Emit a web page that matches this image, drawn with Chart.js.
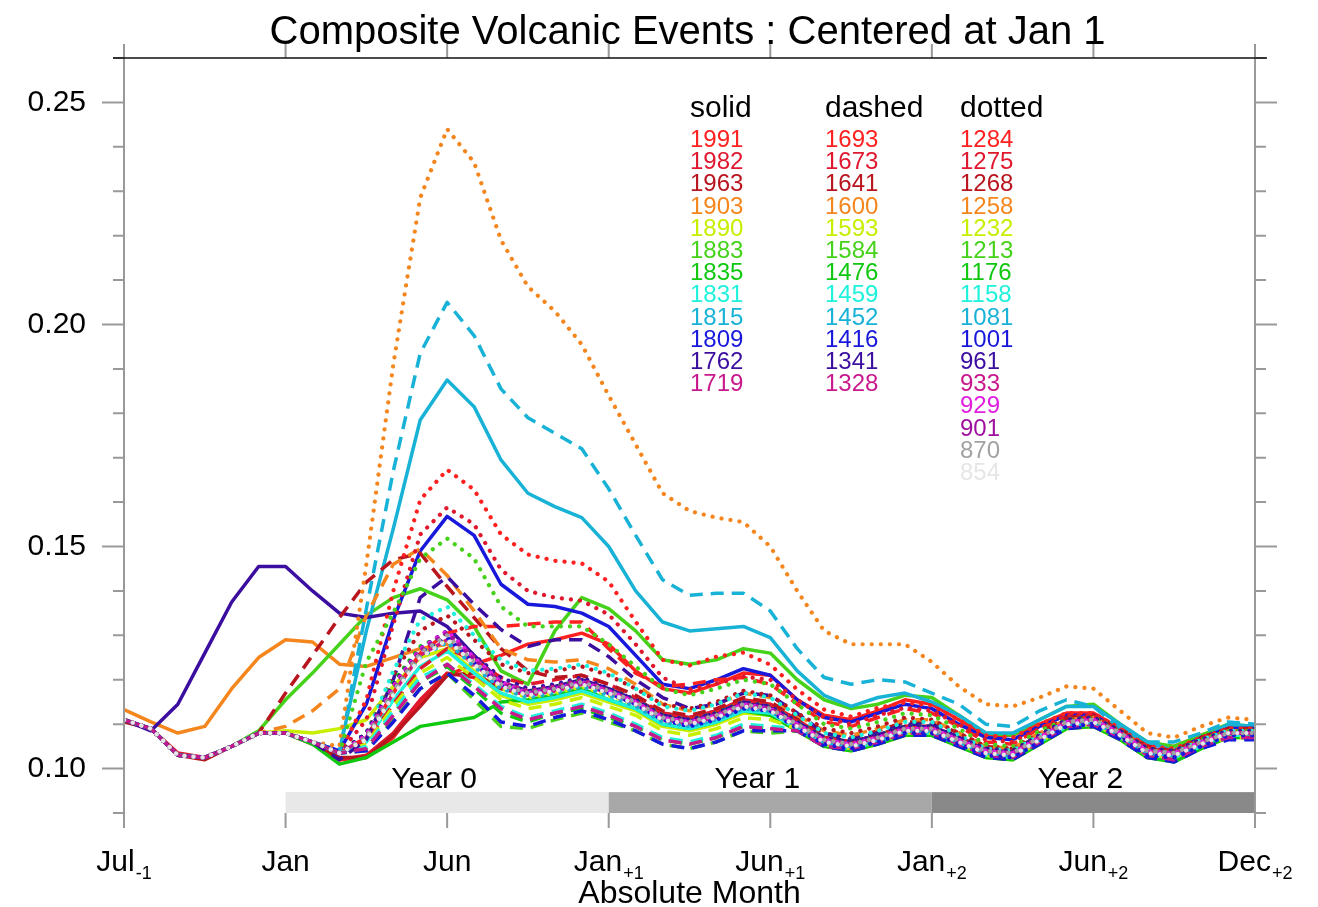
<!DOCTYPE html>
<html>
<head>
<meta charset="utf-8">
<title>Composite Volcanic Events</title>
<script src="https://cdn.jsdelivr.net/npm/chart.js@4.4.1/dist/chart.umd.min.js"></script>
<style>
  html, body { margin: 0; padding: 0; background: #fff; }
</style>
</head>
<body>
<canvas id="chart" width="1318" height="907"></canvas>
<script>
// monthly composites, Jul(-1) .. Dec(+2)
const y1991 = [0.111, 0.109, 0.103, 0.1025, 0.105, 0.108, 0.108, 0.106, 0.102, 0.1025, 0.107, 0.115, 0.121, 0.1235, 0.1255, 0.128, 0.129, 0.1305, 0.128, 0.122, 0.118, 0.117, 0.119, 0.1215, 0.121, 0.1155, 0.112, 0.111, 0.113, 0.1155, 0.1145, 0.111, 0.1075, 0.1075, 0.110, 0.1125, 0.1125, 0.109, 0.1055, 0.105, 0.1075, 0.1095, 0.109];
const y1982 = [0.111, 0.109, 0.1035, 0.1025, 0.105, 0.108, 0.108, 0.106, 0.102, 0.103, 0.108, 0.1155, 0.1215, 0.1205, 0.118, 0.1165, 0.1175, 0.119, 0.117, 0.1155, 0.1125, 0.1115, 0.113, 0.1155, 0.1145, 0.111, 0.107, 0.106, 0.1075, 0.1095, 0.1095, 0.107, 0.1045, 0.104, 0.1075, 0.1105, 0.111, 0.108, 0.104, 0.1035, 0.106, 0.1085, 0.1085];
const y1963 = [0.1105, 0.109, 0.103, 0.102, 0.105, 0.108, 0.108, 0.1055, 0.1025, 0.1025, 0.1075, 0.114, 0.121, 0.1215, 0.118, 0.117, 0.118, 0.1195, 0.1175, 0.115, 0.112, 0.1105, 0.112, 0.1145, 0.1135, 0.110, 0.1065, 0.1055, 0.107, 0.109, 0.109, 0.1065, 0.104, 0.1035, 0.107, 0.110, 0.1105, 0.1075, 0.104, 0.1035, 0.106, 0.108, 0.108];
const y1903 = [0.1133, 0.1105, 0.108, 0.1095, 0.118, 0.125, 0.129, 0.1285, 0.1235, 0.123, 0.125, 0.127, 0.128, 0.1235, 0.119, 0.117, 0.118, 0.1195, 0.1175, 0.1155, 0.112, 0.111, 0.1125, 0.115, 0.114, 0.1105, 0.107, 0.106, 0.1075, 0.1095, 0.1095, 0.107, 0.1045, 0.104, 0.1075, 0.111, 0.1115, 0.1085, 0.1045, 0.1035, 0.1065, 0.1085, 0.1085];
const y1890 = [0.111, 0.109, 0.103, 0.1025, 0.105, 0.108, 0.1085, 0.108, 0.109, 0.111, 0.1185, 0.125, 0.127, 0.122, 0.1165, 0.1145, 0.1155, 0.117, 0.115, 0.113, 0.1095, 0.1085, 0.110, 0.1125, 0.112, 0.1085, 0.105, 0.104, 0.1055, 0.1075, 0.1075, 0.105, 0.1025, 0.102, 0.1055, 0.109, 0.1095, 0.1065, 0.1025, 0.102, 0.1045, 0.107, 0.107];
const y1883 = [0.111, 0.109, 0.103, 0.1025, 0.105, 0.1085, 0.1155, 0.1215, 0.128, 0.1345, 0.1385, 0.1405, 0.138, 0.132, 0.122, 0.119, 0.131, 0.1385, 0.136, 0.131, 0.1245, 0.1235, 0.1245, 0.127, 0.126, 0.120, 0.1155, 0.1135, 0.1145, 0.1165, 0.116, 0.112, 0.108, 0.1075, 0.111, 0.114, 0.1145, 0.110, 0.106, 0.105, 0.1075, 0.110, 0.1095];
const y1835 = [0.111, 0.109, 0.103, 0.1025, 0.105, 0.108, 0.108, 0.1055, 0.101, 0.1025, 0.106, 0.1095, 0.1105, 0.1115, 0.115, 0.1155, 0.1165, 0.118, 0.1155, 0.1135, 0.110, 0.109, 0.1105, 0.113, 0.112, 0.1085, 0.105, 0.104, 0.1055, 0.1075, 0.1075, 0.105, 0.1025, 0.102, 0.1055, 0.109, 0.1095, 0.1065, 0.1025, 0.1015, 0.1045, 0.107, 0.107];
const y1831 = [0.111, 0.109, 0.103, 0.1025, 0.105, 0.108, 0.108, 0.106, 0.1035, 0.106, 0.1155, 0.123, 0.1265, 0.1215, 0.117, 0.115, 0.116, 0.1175, 0.1155, 0.1135, 0.110, 0.109, 0.1105, 0.113, 0.1125, 0.109, 0.1055, 0.1045, 0.106, 0.108, 0.108, 0.1055, 0.103, 0.1025, 0.106, 0.1095, 0.110, 0.107, 0.103, 0.1025, 0.105, 0.1075, 0.1075];
const y1815 = [0.111, 0.109, 0.103, 0.1025, 0.105, 0.108, 0.108, 0.106, 0.104, 0.131, 0.154, 0.1785, 0.1875, 0.1815, 0.1695, 0.162, 0.159, 0.1565, 0.150, 0.140, 0.133, 0.131, 0.1315, 0.132, 0.1295, 0.122, 0.1165, 0.114, 0.116, 0.117, 0.115, 0.112, 0.108, 0.108, 0.111, 0.114, 0.114, 0.110, 0.106, 0.104, 0.1065, 0.110, 0.1095];
const y1809 = [0.111, 0.109, 0.103, 0.1025, 0.105, 0.108, 0.108, 0.106, 0.104, 0.1145, 0.1335, 0.149, 0.1568, 0.1525, 0.1415, 0.137, 0.1365, 0.135, 0.132, 0.1255, 0.119, 0.118, 0.120, 0.1225, 0.121, 0.1155, 0.1115, 0.1105, 0.1125, 0.1145, 0.1135, 0.110, 0.107, 0.1065, 0.1095, 0.112, 0.112, 0.1085, 0.1045, 0.104, 0.107, 0.109, 0.109];
const y1762 = [0.111, 0.1085, 0.1145, 0.126, 0.1375, 0.1455, 0.1455, 0.140, 0.135, 0.134, 0.135, 0.1355, 0.132, 0.1255, 0.1195, 0.1175, 0.1185, 0.120, 0.118, 0.1155, 0.112, 0.111, 0.1125, 0.115, 0.114, 0.1105, 0.107, 0.106, 0.1075, 0.1095, 0.1095, 0.107, 0.1045, 0.104, 0.1075, 0.111, 0.1115, 0.1085, 0.1045, 0.1035, 0.1065, 0.1085, 0.1085];
const y1719 = [0.111, 0.109, 0.103, 0.1025, 0.105, 0.108, 0.108, 0.106, 0.1035, 0.107, 0.117, 0.1255, 0.129, 0.1235, 0.1185, 0.1165, 0.1175, 0.119, 0.117, 0.1145, 0.111, 0.110, 0.1115, 0.114, 0.113, 0.1095, 0.106, 0.105, 0.1065, 0.1085, 0.1085, 0.106, 0.1035, 0.103, 0.1065, 0.110, 0.1105, 0.1075, 0.1035, 0.103, 0.1055, 0.108, 0.108];

const y1693 = [0.111, 0.109, 0.103, 0.1025, 0.105, 0.108, 0.108, 0.106, 0.1035, 0.107, 0.117, 0.126, 0.1305, 0.132, 0.132, 0.1325, 0.133, 0.133, 0.127, 0.1215, 0.1185, 0.119, 0.120, 0.1205, 0.119, 0.1145, 0.1105, 0.1095, 0.1115, 0.1135, 0.1125, 0.1095, 0.106, 0.1055, 0.109, 0.1115, 0.1115, 0.108, 0.104, 0.1035, 0.1065, 0.1085, 0.1085];
const y1673 = [0.111, 0.109, 0.103, 0.1025, 0.105, 0.108, 0.108, 0.106, 0.1035, 0.106, 0.1145, 0.1225, 0.127, 0.1245, 0.1205, 0.119, 0.120, 0.121, 0.119, 0.116, 0.1125, 0.1115, 0.113, 0.1155, 0.1145, 0.111, 0.107, 0.106, 0.1075, 0.1095, 0.1095, 0.107, 0.104, 0.1035, 0.107, 0.1105, 0.111, 0.108, 0.104, 0.1035, 0.106, 0.1085, 0.1085];
const y1641 = [0.111, 0.109, 0.103, 0.1025, 0.105, 0.108, 0.117, 0.1255, 0.134, 0.142, 0.147, 0.1485, 0.141, 0.134, 0.127, 0.122, 0.1205, 0.121, 0.119, 0.1165, 0.113, 0.112, 0.1135, 0.116, 0.115, 0.1115, 0.108, 0.107, 0.1085, 0.1105, 0.1105, 0.108, 0.105, 0.1045, 0.108, 0.1115, 0.112, 0.109, 0.105, 0.104, 0.107, 0.109, 0.109];
const y1600 = [0.111, 0.109, 0.103, 0.1025, 0.105, 0.108, 0.1095, 0.113, 0.118, 0.1345, 0.146, 0.1495, 0.1435, 0.1355, 0.127, 0.1245, 0.124, 0.1245, 0.1225, 0.119, 0.1145, 0.113, 0.1145, 0.117, 0.116, 0.112, 0.1085, 0.1075, 0.109, 0.111, 0.111, 0.108, 0.105, 0.1045, 0.108, 0.111, 0.1115, 0.1085, 0.1045, 0.1035, 0.1065, 0.1085, 0.1085];
const y1593 = [0.111, 0.109, 0.103, 0.1025, 0.105, 0.108, 0.108, 0.106, 0.1035, 0.1055, 0.114, 0.1215, 0.125, 0.1205, 0.1155, 0.1135, 0.1145, 0.116, 0.114, 0.112, 0.1085, 0.1075, 0.109, 0.1115, 0.111, 0.109, 0.1055, 0.1045, 0.106, 0.108, 0.108, 0.1055, 0.103, 0.1025, 0.106, 0.1095, 0.110, 0.107, 0.103, 0.1025, 0.105, 0.107, 0.107];
const y1584 = [0.111, 0.109, 0.103, 0.1025, 0.105, 0.108, 0.108, 0.106, 0.1035, 0.104, 0.111, 0.118, 0.1215, 0.1155, 0.1095, 0.109, 0.111, 0.1125, 0.1105, 0.1085, 0.1055, 0.1045, 0.106, 0.1085, 0.108, 0.1085, 0.105, 0.1045, 0.106, 0.108, 0.108, 0.1055, 0.103, 0.1025, 0.106, 0.1095, 0.1095, 0.1065, 0.1025, 0.102, 0.105, 0.107, 0.107];
const y1476 = [0.111, 0.109, 0.103, 0.1025, 0.105, 0.108, 0.108, 0.106, 0.1035, 0.1045, 0.1125, 0.1195, 0.123, 0.118, 0.1125, 0.1105, 0.1125, 0.1135, 0.1115, 0.1095, 0.1065, 0.1055, 0.107, 0.1095, 0.109, 0.1085, 0.1055, 0.1045, 0.106, 0.108, 0.108, 0.1055, 0.103, 0.1025, 0.106, 0.1095, 0.110, 0.107, 0.103, 0.102, 0.105, 0.107, 0.107];
const y1459 = [0.111, 0.109, 0.103, 0.1025, 0.105, 0.108, 0.108, 0.106, 0.1035, 0.105, 0.113, 0.1205, 0.1235, 0.119, 0.114, 0.1115, 0.113, 0.1145, 0.1125, 0.110, 0.107, 0.106, 0.1075, 0.110, 0.1095, 0.109, 0.1055, 0.1045, 0.106, 0.108, 0.108, 0.1055, 0.103, 0.1025, 0.106, 0.1095, 0.110, 0.107, 0.103, 0.102, 0.105, 0.107, 0.107];
const y1452 = [0.111, 0.109, 0.103, 0.1025, 0.105, 0.108, 0.108, 0.106, 0.1035, 0.136, 0.167, 0.1935, 0.205, 0.1975, 0.1855, 0.179, 0.1755, 0.172, 0.163, 0.1525, 0.1425, 0.139, 0.1395, 0.1395, 0.1355, 0.127, 0.1205, 0.119, 0.120, 0.1195, 0.117, 0.1145, 0.110, 0.1095, 0.113, 0.1155, 0.114, 0.109, 0.106, 0.106, 0.108, 0.1105, 0.110];
const y1416 = [0.111, 0.109, 0.103, 0.1025, 0.105, 0.108, 0.108, 0.106, 0.1035, 0.104, 0.1105, 0.118, 0.1215, 0.1165, 0.1105, 0.1095, 0.1115, 0.113, 0.111, 0.1085, 0.1055, 0.1045, 0.106, 0.1085, 0.1085, 0.1085, 0.105, 0.104, 0.1055, 0.1075, 0.1075, 0.105, 0.1025, 0.102, 0.1055, 0.109, 0.1095, 0.1065, 0.1025, 0.1015, 0.1045, 0.1065, 0.1065];
const y1341 = [0.111, 0.109, 0.103, 0.1025, 0.105, 0.108, 0.108, 0.106, 0.102, 0.1065, 0.120, 0.1385, 0.1432, 0.137, 0.1313, 0.1275, 0.129, 0.129, 0.1252, 0.120, 0.116, 0.1135, 0.1145, 0.117, 0.1165, 0.1125, 0.108, 0.1065, 0.108, 0.110, 0.110, 0.107, 0.104, 0.1035, 0.107, 0.110, 0.1105, 0.1075, 0.1035, 0.103, 0.106, 0.108, 0.108];
const y1328 = [0.111, 0.109, 0.103, 0.1025, 0.105, 0.108, 0.108, 0.106, 0.1035, 0.1045, 0.112, 0.1195, 0.1235, 0.1185, 0.1135, 0.111, 0.1125, 0.114, 0.112, 0.1095, 0.1065, 0.1055, 0.107, 0.1095, 0.109, 0.1085, 0.105, 0.1045, 0.106, 0.108, 0.108, 0.1055, 0.103, 0.1025, 0.106, 0.1095, 0.110, 0.107, 0.103, 0.102, 0.105, 0.107, 0.107];

const y1284 = [0.111, 0.109, 0.103, 0.1025, 0.105, 0.108, 0.108, 0.106, 0.1035, 0.1155, 0.140, 0.1605, 0.1673, 0.1628, 0.1527, 0.1482, 0.1468, 0.1462, 0.1421, 0.1331, 0.1245, 0.1232, 0.1252, 0.1261, 0.1234, 0.1178, 0.1133, 0.1117, 0.1137, 0.1149, 0.1142, 0.111, 0.1075, 0.107, 0.110, 0.1125, 0.1125, 0.109, 0.105, 0.1045, 0.107, 0.109, 0.109];
const y1275 = [0.111, 0.109, 0.103, 0.1025, 0.105, 0.108, 0.108, 0.106, 0.1035, 0.111, 0.1325, 0.1527, 0.1588, 0.155, 0.1448, 0.140, 0.1385, 0.1378, 0.1347, 0.128, 0.1205, 0.1178, 0.1191, 0.1207, 0.120, 0.1155, 0.1115, 0.110, 0.112, 0.1137, 0.113, 0.110, 0.1065, 0.106, 0.109, 0.112, 0.112, 0.1085, 0.1045, 0.104, 0.1065, 0.1085, 0.1085];
const y1268 = [0.111, 0.109, 0.103, 0.1025, 0.105, 0.108, 0.108, 0.106, 0.1035, 0.108, 0.121, 0.131, 0.1345, 0.129, 0.1235, 0.1215, 0.122, 0.123, 0.121, 0.118, 0.1145, 0.1135, 0.115, 0.1175, 0.1165, 0.1125, 0.109, 0.108, 0.1095, 0.1115, 0.111, 0.108, 0.105, 0.1045, 0.108, 0.111, 0.1115, 0.1085, 0.1045, 0.104, 0.1065, 0.1085, 0.1085];
const y1258 = [0.111, 0.109, 0.103, 0.1025, 0.105, 0.108, 0.108, 0.106, 0.105, 0.146, 0.191, 0.2285, 0.244, 0.2365, 0.219, 0.2085, 0.203, 0.1955, 0.184, 0.173, 0.162, 0.158, 0.1565, 0.1555, 0.150, 0.140, 0.131, 0.128, 0.128, 0.128, 0.124, 0.1185, 0.1145, 0.114, 0.116, 0.1185, 0.118, 0.113, 0.108, 0.107, 0.1095, 0.1115, 0.111];
const y1232 = [0.111, 0.109, 0.103, 0.1025, 0.105, 0.108, 0.108, 0.106, 0.1035, 0.1075, 0.1175, 0.1255, 0.129, 0.1235, 0.118, 0.116, 0.117, 0.1185, 0.1165, 0.1145, 0.111, 0.110, 0.1115, 0.114, 0.113, 0.1095, 0.106, 0.105, 0.1065, 0.1085, 0.1085, 0.106, 0.1035, 0.103, 0.1065, 0.110, 0.1105, 0.1075, 0.1035, 0.103, 0.1055, 0.108, 0.108];
const y1213 = [0.111, 0.109, 0.103, 0.1025, 0.105, 0.108, 0.108, 0.106, 0.1035, 0.124, 0.1351, 0.1473, 0.1518, 0.1473, 0.1365, 0.132, 0.132, 0.132, 0.128, 0.123, 0.118, 0.1165, 0.118, 0.120, 0.119, 0.1145, 0.110, 0.109, 0.1105, 0.1125, 0.112, 0.109, 0.1055, 0.105, 0.1085, 0.111, 0.1115, 0.108, 0.104, 0.1035, 0.1065, 0.1085, 0.1085];
const y1176 = [0.111, 0.109, 0.103, 0.1025, 0.105, 0.108, 0.108, 0.106, 0.1035, 0.108, 0.1195, 0.1275, 0.1305, 0.125, 0.1195, 0.1175, 0.1185, 0.120, 0.118, 0.1155, 0.112, 0.111, 0.1125, 0.115, 0.114, 0.1105, 0.107, 0.106, 0.1075, 0.1095, 0.1095, 0.107, 0.1045, 0.104, 0.1075, 0.111, 0.1115, 0.1085, 0.1045, 0.104, 0.1065, 0.1085, 0.1085];
const y1158 = [0.111, 0.109, 0.103, 0.1025, 0.105, 0.108, 0.108, 0.106, 0.1035, 0.1075, 0.122, 0.1335, 0.1365, 0.130, 0.1245, 0.122, 0.1225, 0.1235, 0.1215, 0.118, 0.114, 0.113, 0.1145, 0.117, 0.116, 0.112, 0.108, 0.107, 0.1085, 0.1105, 0.1105, 0.1075, 0.1045, 0.104, 0.1075, 0.1105, 0.111, 0.108, 0.104, 0.1035, 0.1065, 0.1085, 0.1085];
const y1081 = [0.111, 0.109, 0.103, 0.1025, 0.105, 0.108, 0.108, 0.106, 0.1035, 0.107, 0.117, 0.125, 0.1285, 0.123, 0.118, 0.116, 0.117, 0.1185, 0.1165, 0.114, 0.1105, 0.1095, 0.111, 0.1135, 0.113, 0.1095, 0.106, 0.105, 0.1065, 0.1085, 0.1085, 0.106, 0.1035, 0.103, 0.1065, 0.110, 0.1105, 0.1075, 0.1035, 0.103, 0.1055, 0.108, 0.108];
const y1001 = [0.111, 0.109, 0.103, 0.1025, 0.105, 0.108, 0.108, 0.106, 0.1035, 0.1075, 0.118, 0.126, 0.1295, 0.124, 0.119, 0.117, 0.118, 0.1195, 0.117, 0.1145, 0.111, 0.1095, 0.111, 0.1135, 0.113, 0.109, 0.1055, 0.1045, 0.106, 0.108, 0.108, 0.1055, 0.103, 0.1025, 0.106, 0.1095, 0.110, 0.107, 0.103, 0.1025, 0.105, 0.1075, 0.1075];
const y961 = [0.111, 0.109, 0.103, 0.1025, 0.105, 0.108, 0.108, 0.106, 0.1035, 0.108, 0.119, 0.127, 0.131, 0.1255, 0.1205, 0.118, 0.119, 0.1205, 0.118, 0.1155, 0.112, 0.111, 0.1125, 0.115, 0.114, 0.1105, 0.107, 0.106, 0.1075, 0.1095, 0.1095, 0.107, 0.1045, 0.104, 0.1075, 0.111, 0.1115, 0.1085, 0.1045, 0.104, 0.1065, 0.1085, 0.1085];
const y933 = [0.111, 0.109, 0.103, 0.1025, 0.105, 0.108, 0.108, 0.106, 0.1035, 0.1075, 0.1185, 0.1265, 0.1305, 0.125, 0.1195, 0.1175, 0.1185, 0.120, 0.1175, 0.115, 0.1115, 0.1105, 0.112, 0.1145, 0.1135, 0.110, 0.1065, 0.1055, 0.107, 0.109, 0.109, 0.1065, 0.104, 0.1035, 0.107, 0.1105, 0.111, 0.108, 0.104, 0.1035, 0.106, 0.108, 0.108];
const y929 = [0.111, 0.109, 0.103, 0.1025, 0.105, 0.108, 0.108, 0.106, 0.1035, 0.1075, 0.1185, 0.127, 0.131, 0.125, 0.1195, 0.117, 0.118, 0.1195, 0.1175, 0.115, 0.1115, 0.1105, 0.112, 0.1145, 0.1135, 0.110, 0.1065, 0.1055, 0.107, 0.109, 0.109, 0.1065, 0.104, 0.1035, 0.107, 0.1105, 0.111, 0.108, 0.104, 0.1035, 0.106, 0.108, 0.108];
const y901 = [0.111, 0.109, 0.103, 0.1025, 0.105, 0.108, 0.108, 0.106, 0.1035, 0.107, 0.118, 0.1265, 0.1305, 0.1245, 0.119, 0.117, 0.118, 0.1195, 0.117, 0.1145, 0.111, 0.110, 0.1115, 0.114, 0.1135, 0.1095, 0.106, 0.105, 0.1065, 0.1085, 0.1085, 0.106, 0.1035, 0.103, 0.1065, 0.110, 0.1105, 0.1075, 0.1035, 0.103, 0.1055, 0.108, 0.108];
const y870 = [0.111, 0.109, 0.103, 0.1025, 0.105, 0.108, 0.108, 0.106, 0.1035, 0.107, 0.1175, 0.126, 0.130, 0.124, 0.119, 0.117, 0.118, 0.1195, 0.1175, 0.115, 0.1115, 0.1105, 0.112, 0.1145, 0.1135, 0.110, 0.1065, 0.1055, 0.107, 0.109, 0.109, 0.1065, 0.104, 0.1035, 0.107, 0.1105, 0.111, 0.108, 0.104, 0.1035, 0.106, 0.108, 0.108];
const y854 = [0.111, 0.109, 0.103, 0.1025, 0.105, 0.108, 0.108, 0.106, 0.1035, 0.1065, 0.1165, 0.125, 0.129, 0.1235, 0.1185, 0.1165, 0.1175, 0.119, 0.117, 0.1145, 0.111, 0.110, 0.1115, 0.114, 0.113, 0.1095, 0.106, 0.105, 0.1065, 0.1085, 0.1085, 0.106, 0.1035, 0.103, 0.1065, 0.110, 0.1105, 0.1075, 0.1035, 0.103, 0.1055, 0.108, 0.108];

const solidNames = ['1991', '1982', '1963', '1903', '1890', '1883', '1835', '1831', '1815', '1809', '1762', '1719'];
const solidValues = [y1991, y1982, y1963, y1903, y1890, y1883, y1835, y1831, y1815, y1809, y1762, y1719];
const dashedNames = ['1693', '1673', '1641', '1600', '1593', '1584', '1476', '1459', '1452', '1416', '1341', '1328'];
const dashedValues = [y1693, y1673, y1641, y1600, y1593, y1584, y1476, y1459, y1452, y1416, y1341, y1328];
const dottedNames = ['1284', '1275', '1268', '1258', '1232', '1213', '1176', '1158', '1081', '1001', '961', '933', '929', '901', '870', '854'];
const dottedValues = [y1284, y1275, y1268, y1258, y1232, y1213, y1176, y1158, y1081, y1001, y961, y933, y929, y901, y870, y854];

const xTickMonths = [0, 6, 12, 18, 24, 30, 36, 42];
const xTickNames = ['Jul', 'Jan', 'Jun', 'Jan', 'Jun', 'Jan', 'Jun', 'Dec'];
const xTickSubs = ['-1', '', '', '+1', '+1', '+2', '+2', '+2'];
const yTickLabels = ['0.10', '0.15', '0.20', '0.25'];
const yearNames = ['Year 0', 'Year 1', 'Year 2'];
const yearStart = [6, 18, 30];
const yearEnd = [18, 30, 42];

// one colour per legend row, shared by the three columns
const rowColors = ['#ff2020', '#e0182e', '#b8151f', '#f5861e', '#c8ee00', '#46d21a', '#10c810', '#1ef2dc', '#18b2d6', '#1818dc',
  '#3b0ea0', '#c8188c', '#e01ee0', '#a0109e', '#a2a2a2', '#e6e6e6'];
const yearShades = ['#e8e8e8', '#a8a8a8', '#898989'];

const FONT = "'Liberation Sans', Arial, Helvetica, sans-serif";
Chart.defaults.font.family = FONT;

const datasets = [];
function addLines(names, values, dash, width) {
  names.forEach((name, k) => {
    datasets.push({
      label: name,
      data: values[k].map((v, i) => ({x: i, y: v})),
      borderColor: rowColors[k],
      borderWidth: width,
      borderDash: dash,
      borderCapStyle: dash.length && dash[0] < 1 ? 'round' : 'butt',
      borderJoinStyle: 'round',
      pointRadius: 0,
      fill: false,
      tension: 0
    });
  });
}
addLines(solidNames, solidValues, [], 3.5);
addLines(dashedNames, dashedValues, [13, 8], 3.5);
addLines(dottedNames, dottedValues, [0.1, 9], 4.2);
// chart.js paints index 0 last, so flip to keep dotted lines on top
datasets.reverse();

function drawSubLabel(ctx, main, sub, cx, baseline) {
  ctx.font = '30px ' + FONT;
  const wm = ctx.measureText(main).width;
  ctx.font = '18px ' + FONT;
  const ws = sub ? ctx.measureText(sub).width + 1 : 0;
  const start = cx - (wm + ws) / 2;
  ctx.textAlign = 'left';
  ctx.font = '30px ' + FONT;
  ctx.fillText(main, start, baseline);
  if (sub) {
    ctx.font = '18px ' + FONT;
    ctx.fillText(sub, start + wm + 1, baseline + 8);
  }
}

const frame = {
  id: 'frame',
  beforeDatasetsDraw(chart) {
    const {ctx, scales: {x, y}} = chart;
    const top = y.getPixelForValue(0.0947);
    const bottom = y.getPixelForValue(0.09);
    ctx.save();
    yearNames.forEach((name, k) => {
      const x0 = x.getPixelForValue(yearStart[k]);
      const x1 = x.getPixelForValue(yearEnd[k]);
      ctx.fillStyle = yearShades[k];
      ctx.fillRect(x0, top, x1 - x0, bottom - top);
      ctx.fillStyle = '#000';
      ctx.font = '30px ' + FONT;
      ctx.textAlign = 'center';
      ctx.textBaseline = 'alphabetic';
      ctx.fillText(name, (x0 + x1) / 2 - 13, top - 4);
    });
    ctx.restore();
  },
  afterDraw(chart) {
    const {ctx, chartArea: a, scales: {x, y}} = chart;
    ctx.save();
    ctx.lineCap = 'butt';
    ctx.strokeStyle = '#999';
    ctx.lineWidth = 2;

    // y ticks, minor every 0.01 and major every 0.05, both sides
    ctx.beginPath();
    for (let k = 9; k <= 26; k++) {
      const py = y.getPixelForValue(k / 100);
      const len = k % 5 === 0 ? 22 : 11;
      ctx.moveTo(a.left - len, py); ctx.lineTo(a.left, py);
      ctx.moveTo(a.right, py); ctx.lineTo(a.right + len, py);
    }
    // x ticks top and bottom
    xTickMonths.forEach(m => {
      const px = x.getPixelForValue(m);
      ctx.moveTo(px, a.bottom); ctx.lineTo(px, a.bottom + 15);
      ctx.moveTo(px, a.top); ctx.lineTo(px, a.top - 14);
    });
    ctx.moveTo(a.left, a.top); ctx.lineTo(a.left, a.bottom);
    ctx.moveTo(a.right, a.top); ctx.lineTo(a.right, a.bottom);
    ctx.stroke();

    ctx.strokeStyle = '#111';
    ctx.lineWidth = 1.5;
    ctx.beginPath();
    ctx.moveTo(a.left - 11, a.top); ctx.lineTo(a.right + 12, a.top);
    ctx.stroke();

    // x tick labels with subscripted year offsets
    ctx.fillStyle = '#000';
    ctx.textBaseline = 'alphabetic';
    xTickMonths.forEach((m, k) => {
      drawSubLabel(ctx, xTickNames[k], xTickSubs[k], x.getPixelForValue(m), a.bottom + 58);
    });

    ctx.textAlign = 'center';
    ctx.font = '32px ' + FONT;
    ctx.fillText('Absolute Month', (a.left + a.right) / 2, a.bottom + 90);
    ctx.font = '40px ' + FONT;
    ctx.fillText('Composite Volcanic Events : Centered at Jan 1', (a.left + a.right) / 2 - 2, a.top - 14);

    // legend columns
    ctx.textAlign = 'left';
    const cols = [[solidNames, 'solid', 566], [dashedNames, 'dashed', 701], [dottedNames, 'dotted', 836]];
    cols.forEach(([names, head, dx]) => {
      ctx.fillStyle = '#000';
      ctx.font = '30px ' + FONT;
      ctx.fillText(head, a.left + dx, a.top + 59);
      ctx.font = '24px ' + FONT;
      names.forEach((n, k) => {
        ctx.fillStyle = rowColors[k];
        ctx.fillText(n, a.left + dx, a.top + 89 + k * 22.2);
      });
    });
    ctx.restore();
  }
};

new Chart(document.getElementById('chart'), {
  type: 'line',
  data: {datasets: datasets},
  options: {
    responsive: false,
    animation: false,
    layout: {padding: {top: 58, right: 63, left: 0, bottom: 0}},
    plugins: {legend: {display: false}, tooltip: {enabled: false}, title: {display: false}},
    scales: {
      x: {
        type: 'linear', min: 0, max: 42,
        afterFit: s => { s.height = 94; },
        grid: {display: false}, border: {display: false},
        ticks: {display: false}
      },
      y: {
        min: 0.09, max: 0.26,
        afterFit: s => { s.width = 124; },
        grid: {display: false}, border: {display: false},
        ticks: {
          stepSize: 0.05, autoSkip: false, padding: 30, color: '#000',
          font: {size: 30},
          callback: v => yTickLabels.includes(v.toFixed(2)) ? v.toFixed(2) : ''
        }
      }
    }
  },
  plugins: [frame]
});
</script>
</body>
</html>
